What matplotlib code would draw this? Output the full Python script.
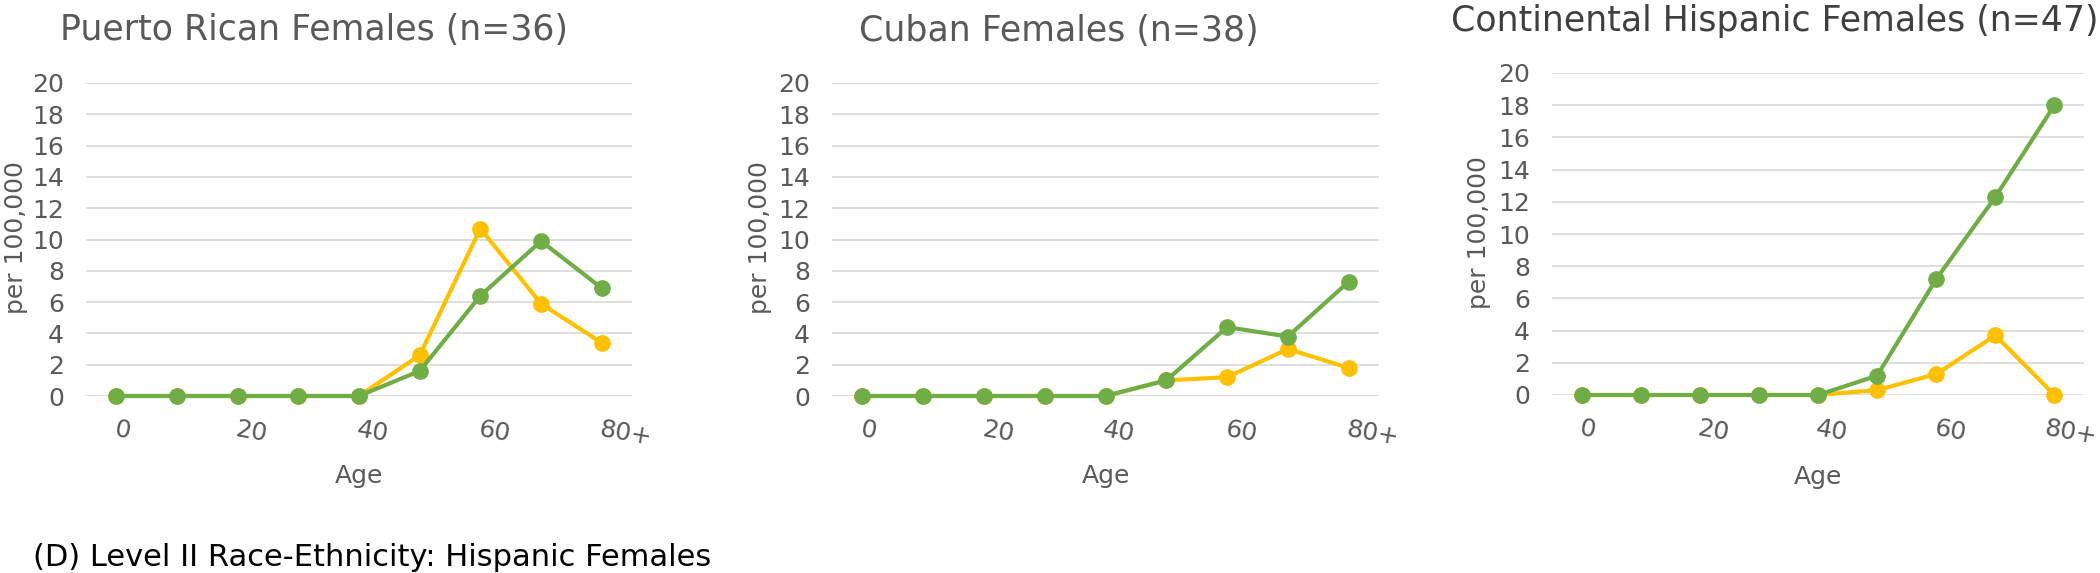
import numpy as np
import matplotlib
matplotlib.use('Agg')
import matplotlib.pyplot as plt
from matplotlib.transforms import ScaledTranslation


# ==== data (rate per 100,000 by age group)
age_labels = ['0', '', '20', '', '40', '', '60', '', '80+']

titles = ['Puerto Rican Females (n=36)',
          'Cuban Females (n=38)',
          'Continental Hispanic Females (n=47)']

pr_yellow = [0, 0, 0, 0, 0, 2.6, 10.7, 5.9, 3.4]
pr_green = [0, 0, 0, 0, 0, 1.6, 6.4, 9.9, 6.9]

cu_yellow = [0, 0, 0, 0, 0, 1.0, 1.2, 3.0, 1.8]
cu_green = [0, 0, 0, 0, 0, 1.0, 4.4, 3.8, 7.3]

ch_yellow = [0, 0, 0, 0, 0, 0.3, 1.3, 3.7, 0]
ch_green = [0, 0, 0, 0, 0, 1.2, 7.2, 12.3, 18.0]

yticks = list(range(0, 21, 2))


# ==== figure layout (pixels at dpi 100)
W, H = 2100, 573
fig = plt.figure(figsize=(W / 100, H / 100), dpi=100)

YELLOW = '#FFC000'
GREEN = '#70AD47'
GREY = '#595959'
GRID = '#D9D9D9'

# (left, top, right, bottom) in pixels, title centre x, title baseline y, title colour
panels = [
    ((86, 83, 632, 396), 314, 40, GREY, pr_yellow, pr_green),
    ((832, 83, 1379, 396), 1059, 41, GREY, cu_yellow, cu_green),
    ((1552, 73, 2084, 395), 1775, 31, '#404040', ch_yellow, ch_green),
]

for i, (box, tx, ty, tcol, yel, grn) in enumerate(panels):
    l, t, r, b = box
    ax = fig.add_axes([l / W, 1 - b / H, (r - l) / W, (b - t) / H])
    x = np.arange(len(age_labels))

    ax.plot(x, yel, color=YELLOW, lw=3.0, marker='o', ms=11, clip_on=False, zorder=3)
    ax.plot(x, grn, color=GREEN, lw=3.0, marker='o', ms=11, clip_on=False, zorder=4)

    ax.set_xlim(-0.5, len(age_labels) - 0.5)
    ax.set_ylim(0, 20)
    ax.set_yticks(yticks)
    ax.set_yticklabels([str(v) for v in yticks], fontsize=18, color=GREY)
    ax.set_xticks(x)
    ax.set_xticklabels(age_labels, fontsize=18, color=GREY, rotation=-10,
                       ha='left', va='top', rotation_mode='anchor')
    ax.tick_params(axis='y', length=0, pad=16)
    ax.tick_params(axis='x', length=0, pad=15)

    # last panel sits against the figure edge: nudge "80+" in a little
    if i == 2:
        lab = ax.get_xticklabels()[-1]
        lab.set_transform(lab.get_transform() + ScaledTranslation(-8 / 100, 0, fig.dpi_scale_trans))

    ax.grid(axis='y', color=GRID, lw=1.2)
    ax.set_axisbelow(True)
    for s in ax.spines.values():
        s.set_visible(False)

    ax.text(0.5, -0.255, 'Age', transform=ax.transAxes, ha='center', va='center',
            fontsize=18, color=GREY)
    ylab_x = [16, 760, 1479][i]
    ax.text((ylab_x - l) / (r - l), 0.505, 'per 100,000', transform=ax.transAxes,
            rotation=90, ha='center', va='center', fontsize=18, color=GREY)

    fig.text(tx / W, 1 - ty / H, titles[i], ha='center', va='baseline',
             fontsize=25, color=tcol)

fig.text(33 / W, 1 - 566 / H, '(D) Level II Race-Ethnicity: Hispanic Females',
         ha='left', va='baseline', fontsize=22, color='black')

fig.savefig('out.png', dpi=100, facecolor='white')
